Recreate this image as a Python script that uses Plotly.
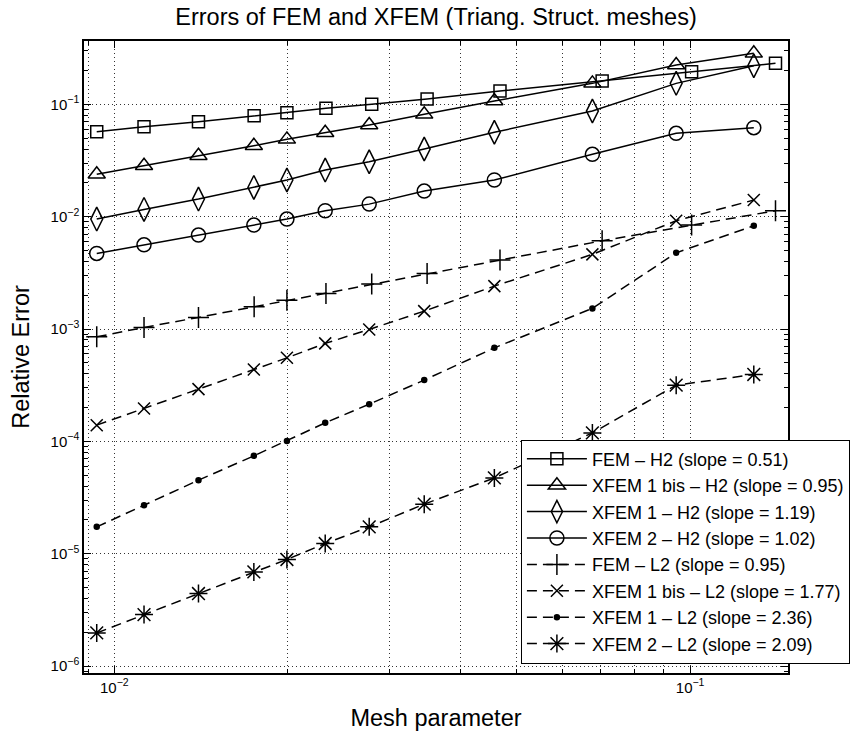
import plotly.graph_objects as go

# mesh parameter h
h_xfem = [0.00932, 0.01126, 0.01400, 0.01747, 0.01994, 0.02324, 0.02771, 0.03453, 0.04571, 0.06765, 0.09458, 0.1290]
h_fem = [0.00932, 0.01126, 0.01400, 0.01749, 0.01994, 0.02331, 0.02799, 0.03493, 0.04675, 0.07034, 0.1006, 0.1407]

# relative errors
fem_h2 = [0.057, 0.0632, 0.070, 0.0791, 0.0841, 0.0921, 0.100, 0.1115, 0.1313, 0.1612, 0.195, 0.2318]
xfem1bis_h2 = [0.0239, 0.0284, 0.0349, 0.0428, 0.0488, 0.0559, 0.0654, 0.0815, 0.107, 0.1538, 0.224, 0.2845]
xfem1_h2 = [0.00952, 0.01161, 0.01435, 0.01823, 0.0212, 0.026, 0.0308, 0.040, 0.0564, 0.0872, 0.1538, 0.2207]
xfem2_h2 = [0.00471, 0.00562, 0.00686, 0.00842, 0.00952, 0.0113, 0.01294, 0.0169, 0.0212, 0.0359, 0.0552, 0.062]
fem_l2 = [0.000852, 0.001033, 0.001269, 0.001578, 0.001808, 0.002075, 0.002512, 0.003126, 0.00411, 0.0061, 0.00842, 0.0113]
xfem1bis_l2 = [1.394e-4, 1.963e-4, 2.917e-4, 4.37e-4, 5.54e-4, 7.45e-4, 9.92e-4, 1.443e-3, 2.41e-3, 4.62e-3, 9.2e-3, 1.406e-2]
xfem1_l2 = [1.733e-5, 2.70e-5, 4.51e-5, 7.43e-5, 1.01e-4, 1.462e-4, 2.144e-4, 3.51e-4, 6.80e-4, 1.526e-3, 4.77e-3, 8.3e-3]
xfem2_l2 = [1.97e-6, 2.87e-6, 4.42e-6, 6.88e-6, 8.88e-6, 1.233e-5, 1.733e-5, 2.76e-5, 4.73e-5, 1.19e-4, 3.165e-4, 3.94e-4]

series_names = [
    "FEM – H2 (slope = 0.51)",
    "XFEM 1 bis – H2 (slope = 0.95)",
    "XFEM 1 – H2 (slope = 1.19)",
    "XFEM 2 – H2 (slope = 1.02)",
    "FEM – L2 (slope = 0.95)",
    "XFEM 1 bis – L2 (slope = 1.77)",
    "XFEM 1 – L2 (slope = 2.36)",
    "XFEM 2 – L2 (slope = 2.09)",
]

x_tickvals = [0.01, 0.1]
x_ticktext = ["10<sup>−2</sup>", "10<sup>−1</sup>"]
y_tickvals = [1e-6, 1e-5, 1e-4, 1e-3, 1e-2, 1e-1]
y_ticktext = ["10<sup>−6</sup>", "10<sup>−5</sup>", "10<sup>−4</sup>",
              "10<sup>−3</sup>", "10<sup>−2</sup>", "10<sup>−1</sup>"]

FONT = "Liberation Sans, Arial, Helvetica, sans-serif"
DASH = "10px,6px"

# (x, y, symbol, size, dash)
traces = [
    (h_fem, fem_h2, "square-open", 12, "solid"),
    (h_xfem, xfem1bis_h2, "triangle-up-open", 15, "solid"),
    (h_xfem, xfem1_h2, "diamond-tall-open", 17, "solid"),
    (h_xfem, xfem2_h2, "circle-open", 14, "solid"),
    (h_fem, fem_l2, "cross-thin-open", 15, DASH),
    (h_xfem, xfem1bis_l2, "x-thin-open", 12, DASH),
    (h_xfem, xfem1_l2, "circle", 5, DASH),
    (h_xfem, xfem2_l2, "asterisk-open", 15, DASH),
]

fig = go.Figure()
for name, (xs, ys, sym, size, dash) in zip(series_names, traces):
    fig.add_trace(go.Scatter(
        x=xs, y=ys, name=name, mode="lines+markers",
        line=dict(color="black", width=1.5, dash=dash),
        marker=dict(symbol=sym, size=size, color="black",
                    line=dict(color="black", width=1.5)),
    ))

x_minor = [0.009] + [k / 100 for k in range(2, 10)]
y_minor = [m * 10.0 ** e for e in range(-7, 0) for m in range(2, 10)]

axis_common = dict(
    type="log", showline=True, linecolor="black", linewidth=1.5,
    mirror="ticks", ticks="inside", ticklen=7, tickcolor="black",
    tickfont=dict(size=15, family=FONT, color="black"),
    showgrid=True, gridcolor="#333", griddash="1px,3px", gridwidth=1,
    zeroline=False, tickmode="array",
)

fig.update_xaxes(
    **axis_common,
    range=[-2.0527, -0.830],
    tickvals=x_tickvals, ticktext=x_ticktext,
    minor=dict(tickmode="array", tickvals=x_minor, ticks="inside", ticklen=4,
               tickcolor="black", showgrid=True, gridcolor="#333", griddash="1px,3px"),
    title=dict(text="Mesh parameter", font=dict(size=23.5, family=FONT, color="black"), standoff=15),
)
fig.update_yaxes(
    **axis_common,
    range=[-6.062, -0.436],
    tickvals=y_tickvals, ticktext=y_ticktext,
    minor=dict(tickmode="array", tickvals=y_minor, ticks="inside", ticklen=4,
               tickcolor="black", showgrid=False),
    title=dict(text="Relative Error", font=dict(size=23.5, family=FONT, color="black"), standoff=14),
)

fig.update_layout(
    width=852, height=736,
    margin=dict(l=84, r=852 - 788, t=41, b=736 - 673, autoexpand=False),
    paper_bgcolor="white", plot_bgcolor="white",
    font=dict(family=FONT, color="black"),
    title=dict(text="Errors of FEM and XFEM (Triang. Struct. meshes)",
               font=dict(size=23.5, family=FONT, color="black"),
               x=0.5, xref="paper", xanchor="center",
               y=1 - 17 / 736, yref="container", yanchor="middle"),
    showlegend=True,
    legend=dict(x=0.6206, xanchor="left", y=0.0149, yanchor="bottom",
                bgcolor="white", bordercolor="black", borderwidth=1,
                font=dict(size=18, family=FONT, color="black"),
                itemwidth=60, tracegroupgap=0),
)

# drop the browser's default body margin so the figure sits at the page corner
fig.write_html("out.html", config={"displayModeBar": False},
               post_script="document.body.style.margin = '0px';")
